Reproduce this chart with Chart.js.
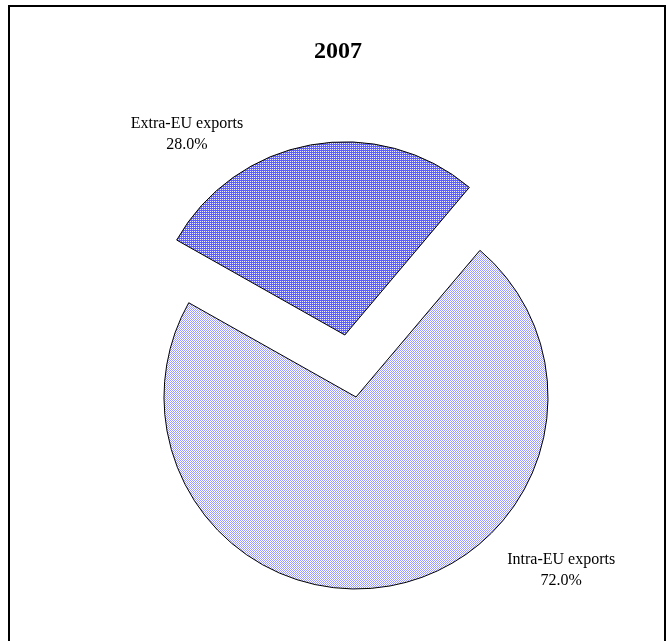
<!DOCTYPE html>
<html>
<head>
<meta charset="utf-8">
<script src="https://cdn.jsdelivr.net/npm/chart.js@4.4.1/dist/chart.umd.min.js"></script>
<style>
  body { margin: 0; background: #fff; }
  #wrap { position: relative; width: 667px; height: 641px; overflow: hidden; }
  #frame { position: absolute; left: 8px; top: 5px; width: 654px; height: 700px; border: 2px solid #000; pointer-events: none; }
</style>
</head>
<body>
<div id="wrap">
  <canvas id="exports-chart" width="667" height="641"></canvas>
  <div id="frame"></div>
</div>
<script>
var chartTitle = '2007';
var labels = ['Extra-EU exports', 'Intra-EU exports'];
var shares = [28.0, 72.0];

var canvas = document.getElementById('exports-chart');
var ctx = canvas.getContext('2d');

// small repeating tiles for the dotted fills
function dotPattern(bg, dot, checker) {
  var tile = document.createElement('canvas');
  tile.width = 2;
  tile.height = 2;
  var t = tile.getContext('2d');
  t.fillStyle = bg;
  t.fillRect(0, 0, 2, 2);
  t.fillStyle = dot;
  t.fillRect(1, 1, 1, 1);
  if (checker) t.fillRect(0, 0, 1, 1);
  return ctx.createPattern(tile, 'repeat');
}

// labels sit outside each slice, title over the frame
var sliceLabels = {
  id: 'sliceLabels',
  afterDatasetsDraw: function(chart, args, opts) {
    var c = chart.ctx;
    var meta = chart.getDatasetMeta(0);
    c.save();
    c.fillStyle = '#000';
    c.textAlign = 'center';
    c.textBaseline = 'middle';
    c.font = 'bold 24px "Liberation Serif", "Times New Roman", serif';
    c.fillText(chartTitle, opts.titleX, opts.titleY);
    c.font = '16px "Liberation Serif", "Times New Roman", serif';
    meta.data.forEach(function(arc, i) {
      var p = arc.getProps(['x', 'y', 'startAngle', 'endAngle', 'outerRadius']);
      var mid = (p.startAngle + p.endAngle) / 2;
      var shift = (arc.options.offset || 0) / 4;
      var a = opts.angles[i] * Math.PI / 180 - Math.PI / 2;
      var d = p.outerRadius * opts.distances[i];
      var x = p.x + Math.cos(mid) * shift + Math.cos(a) * d;
      var y = p.y + Math.sin(mid) * shift + Math.sin(a) * d;
      c.fillText(labels[i], x, y - opts.lineGap / 2);
      c.fillText(shares[i].toFixed(1) + '%', x, y + opts.lineGap / 2);
    });
    c.restore();
  }
};

var exportsChart = new Chart(ctx, {
  type: 'pie',
  data: {
    labels: labels,
    datasets: [{
      data: shares,
      backgroundColor: [
        dotPattern('#5c5cf8', '#ffffff', false),
        dotPattern('#ffffff', '#9a9aff', true)
      ],
      borderColor: '#000',
      borderWidth: 1,
      offset: [252, 0],
      clip: false
    }]
  },
  options: {
    responsive: false,
    animation: false,
    rotation: -60.6,
    radius: 192,
    layout: { padding: { left: 45, right: 0, top: 158, bottom: 5 } },
    plugins: {
      legend: { display: false },
      tooltip: { enabled: false },
      title: { display: false },
      sliceLabels: {
        titleX: 338,
        titleY: 52,
        angles: [-38.2, 130.25],
        distances: [1.33, 1.40],
        lineGap: 21
      }
    }
  },
  plugins: [sliceLabels]
});
</script>
</body>
</html>
